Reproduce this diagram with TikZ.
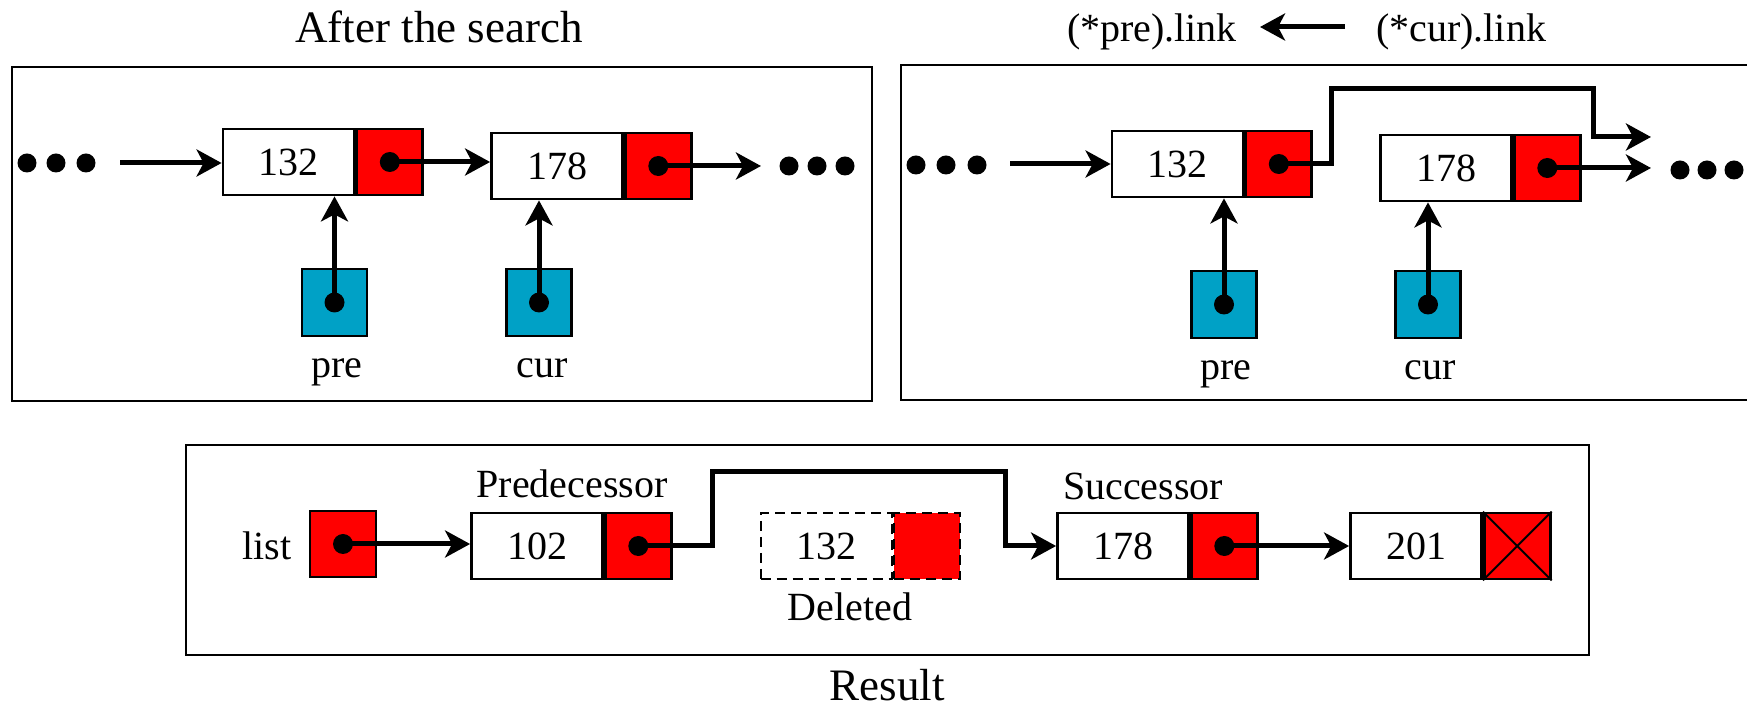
\documentclass[tikz,border=0pt]{standalone}
\usepackage{fontspec}
\setmainfont{Liberation Serif}
\usetikzlibrary{arrows.meta,calc}
\definecolor{ptrred}{RGB}{255,0,0}
\definecolor{varblue}{RGB}{0,161,198}

\begin{document}
\begin{tikzpicture}[x=0.5pt,y=-0.5pt,
  data/.style={draw, line width=1.4pt, fill=white, minimum width=65.5pt,
    minimum height=33pt, inner sep=0pt, font=\fontsize{20}{24}\selectfont},
  link/.style={draw, line width=1.4pt, fill=ptrred, minimum width=33pt,
    minimum height=33pt, inner sep=0pt, anchor=west},
  var/.style={draw, line width=1.4pt, fill=varblue, minimum width=32.5pt,
    minimum height=33.5pt, inner sep=0pt},
  lbl/.style={font=\fontsize{20}{24}\selectfont, inner sep=0pt, anchor=base},
  ttl/.style={font=\fontsize{22.5}{27}\selectfont, inner sep=0pt, anchor=base},
  panel/.style={draw, line width=1.4pt},
  arr/.style={line width=2.5pt, line join=miter,
    -{Stealth[length=12.5pt,width=13.5pt,inset=3.5pt]}},
  bead/.style={circle, fill=black, minimum size=9.5pt, inner sep=0pt},
  ghost/.style={dash pattern=on 5pt off 3pt, line width=1pt},
]
\useasboundingbox (0,0) rectangle (1747,710);

% ---------------- left panel: after the search ----------------
\node[ttl] (ttlA) at (439,43) {After the search};
\draw[panel] (12,67) rectangle (872,401);

\node[bead] (ld1) at (27,163) {};
\node[bead] (ld2) at (56,163) {};
\node[bead] (ld3) at (86,163) {};
\coordinate (lstart) at (120,163);

\node[data] (l1) at (288.5,162) {132};
\node[link] (l1p) at (l1.east) {};
\node[data] (l2) at (557,166) {178};
\node[link] (l2p) at (l2.east) {};

\coordinate (ltip) at (761,166);
\node[bead] (ld4) at (789,166) {};
\node[bead] (ld5) at (817,166) {};
\node[bead] (ld6) at (845,166) {};

\draw[arr] (lstart) -- (l1.west |- lstart);
\fill (l1p.center) circle (5pt);
\draw[arr] (l1p.center) -- (l1p.center -| l2.west);
\fill (l2p.center) circle (5pt);
\draw[arr] (l2p.center) -- (ltip);

\node[var] (lpre) at (334.5,302.5) {};
\node[var] (lcur) at (539,302.5) {};
\fill (lpre.center) circle (5pt);
\fill (lcur.center) circle (5pt);
\draw[arr] (lpre.center) -- (lpre.center |- l1.south);
\draw[arr] (lcur.center) -- (lcur.center |- l2.south);
\node[lbl] (lpreT) at (337,378) {pre};
\node[lbl] (lcurT) at (542,378) {cur};

% ---------------- right panel: relinking ----------------
\node[ttl,font=\fontsize{20}{24}\selectfont] (asgL) at (1152,42) {(*pre).link};
\node[ttl,font=\fontsize{20}{24}\selectfont] (asgR) at (1461,42) {(*cur).link};
\coordinate (asgTail) at (1345,27);
\coordinate (asgHead) at (1260,27);
\draw[arr] (asgTail) -- (asgHead);

\draw[panel] (1747,65) -| (901,400) -- (1747,400);

\node[bead] (rd1) at (916,165) {};
\node[bead] (rd2) at (946,165) {};
\node[bead] (rd3) at (977,165) {};
\coordinate (rstart) at (1010,164);

\node[data] (r1) at (1177.5,164) {132};
\node[link] (r1p) at (r1.east) {};
\node[data] (r2) at (1446,168) {178};
\node[link] (r2p) at (r2.east) {};

\draw[arr] (rstart) -- (r1.west |- rstart);

\coordinate (rbendA) at (1331,89);
\coordinate (rbendB) at (1593,89);
\coordinate (rtipA) at (1651,137);
\coordinate (rtipB) at (1651,168);
\fill (r1p.center) circle (5pt);
\draw[arr] (r1p.center) -| (rbendA) -- (rbendB) |- (rtipA);
\fill (r2p.center) circle (5pt);
\draw[arr] (r2p.center) -- (rtipB);

\node[bead] (rd4) at (1680,170) {};
\node[bead] (rd5) at (1707,170) {};
\node[bead] (rd6) at (1734,170) {};

\node[var] (rpre) at (1224,304.5) {};
\node[var] (rcur) at (1428,304.5) {};
\fill (rpre.center) circle (5pt);
\fill (rcur.center) circle (5pt);
\draw[arr] (rpre.center) -- (rpre.center |- r1.south);
\draw[arr] (rcur.center) -- (rcur.center |- r2.south);
\node[lbl] (rpreT) at (1226,380) {pre};
\node[lbl] (rcurT) at (1430,380) {cur};

% ---------------- bottom panel: result ----------------
\draw[panel] (186,445) rectangle (1589,655);
\node[ttl] (ttlC) at (887,701) {Result};

\node[lbl] (listT) at (267,560) {list};
\node[var,fill=ptrred,minimum width=33pt,minimum height=33pt] (head) at (343,544) {};

\node[data] (pd) at (537,546) {102};
\node[link] (pp) at (pd.east) {};
\node[lbl] (pdT) at (572,498) {Predecessor};

\node[data,ghost] (dd) at (826,546) {132};
\node[link,ghost] (dp) at (dd.east) {};
\node[lbl] (ddT) at (850,621) {Deleted};

\node[data] (sd) at (1123,546) {178};
\node[link] (sp) at (sd.east) {};
\node[lbl] (sdT) at (1143,500) {Successor};

\node[data] (nd) at (1416,546) {201};
\node[link] (np) at (nd.east) {};
\draw[line width=1pt] (np.north west) -- (np.south east)
                      (np.north east) -- (np.south west);

\fill (head.center) circle (5pt);
\draw[arr] (head.center) -- (head.center -| pd.west);

\coordinate (bendL) at (712,472);
\coordinate (bendR) at (1005,472);
\fill (pp.center) circle (5pt);
\draw[arr] (pp.center) -| (bendL) -- (bendR) |- (sd.west);

\fill (sp.center) circle (5pt);
\draw[arr] (sp.center) -- (nd.west);
\end{tikzpicture}
\end{document}
